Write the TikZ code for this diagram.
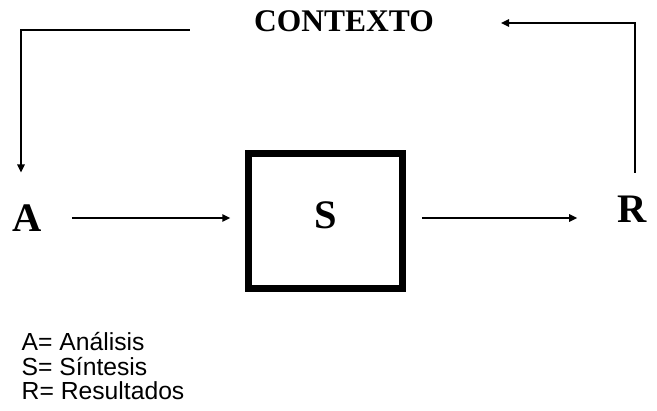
\documentclass[tikz,border=0pt]{standalone}
\usepackage{fontspec}
\setmainfont{Liberation Serif}
\newfontfamily\leyendafont{Liberation Sans}
\usetikzlibrary{arrows.meta}

\begin{document}
\begin{tikzpicture}[x=1pt, y=-1pt,
  flecha/.style={-{Triangle[length=8pt,width=7.5pt]}, line width=1.6pt},
  letra/.style={font=\fontsize{40.5}{40.5}\selectfont\bfseries, inner sep=0pt}]
\useasboundingbox (0,0) rectangle (657,411);

% titulo arriba
\node[font=\fontsize{31.5}{31.5}\selectfont\bfseries, inner sep=0pt] (ctx) at (344,21) {CONTEXTO};

% A, caja S y R
\node[letra] (A) at (27,218) {A};
\node[letra, draw, line width=6.5pt, minimum width=154pt, minimum height=135pt, text depth=12pt] (S) at (325.5,221) {S};
\node[letra] (R) at (632,209) {R};

% flechas horizontales
\draw[flecha, shorten <=30pt, shorten >=15pt] (A.east) -- (A.east -| S.west);
\draw[flecha, shorten <=16pt, shorten >=40pt] (S.east |- A.east) -- (A.east -| R.west);

% lazo por el contexto
\draw[flecha, shorten <=23pt, shorten >=67pt] ([xshift=3pt]R.north) |- ([yshift=-2pt]ctx.east);
\draw[flecha, shorten <=64pt, shorten >=32pt] ([yshift=-9pt]ctx.west) -| ([xshift=-6pt]A.north);

% leyenda
\node[anchor=north west, inner sep=0pt, align=left, font=\leyendafont\fontsize{24.7}{24.2}\selectfont] (leyenda) at (21.5,332.5) {A= Análisis\\S= Síntesis\\R= Resultados};

\end{tikzpicture}
\end{document}
